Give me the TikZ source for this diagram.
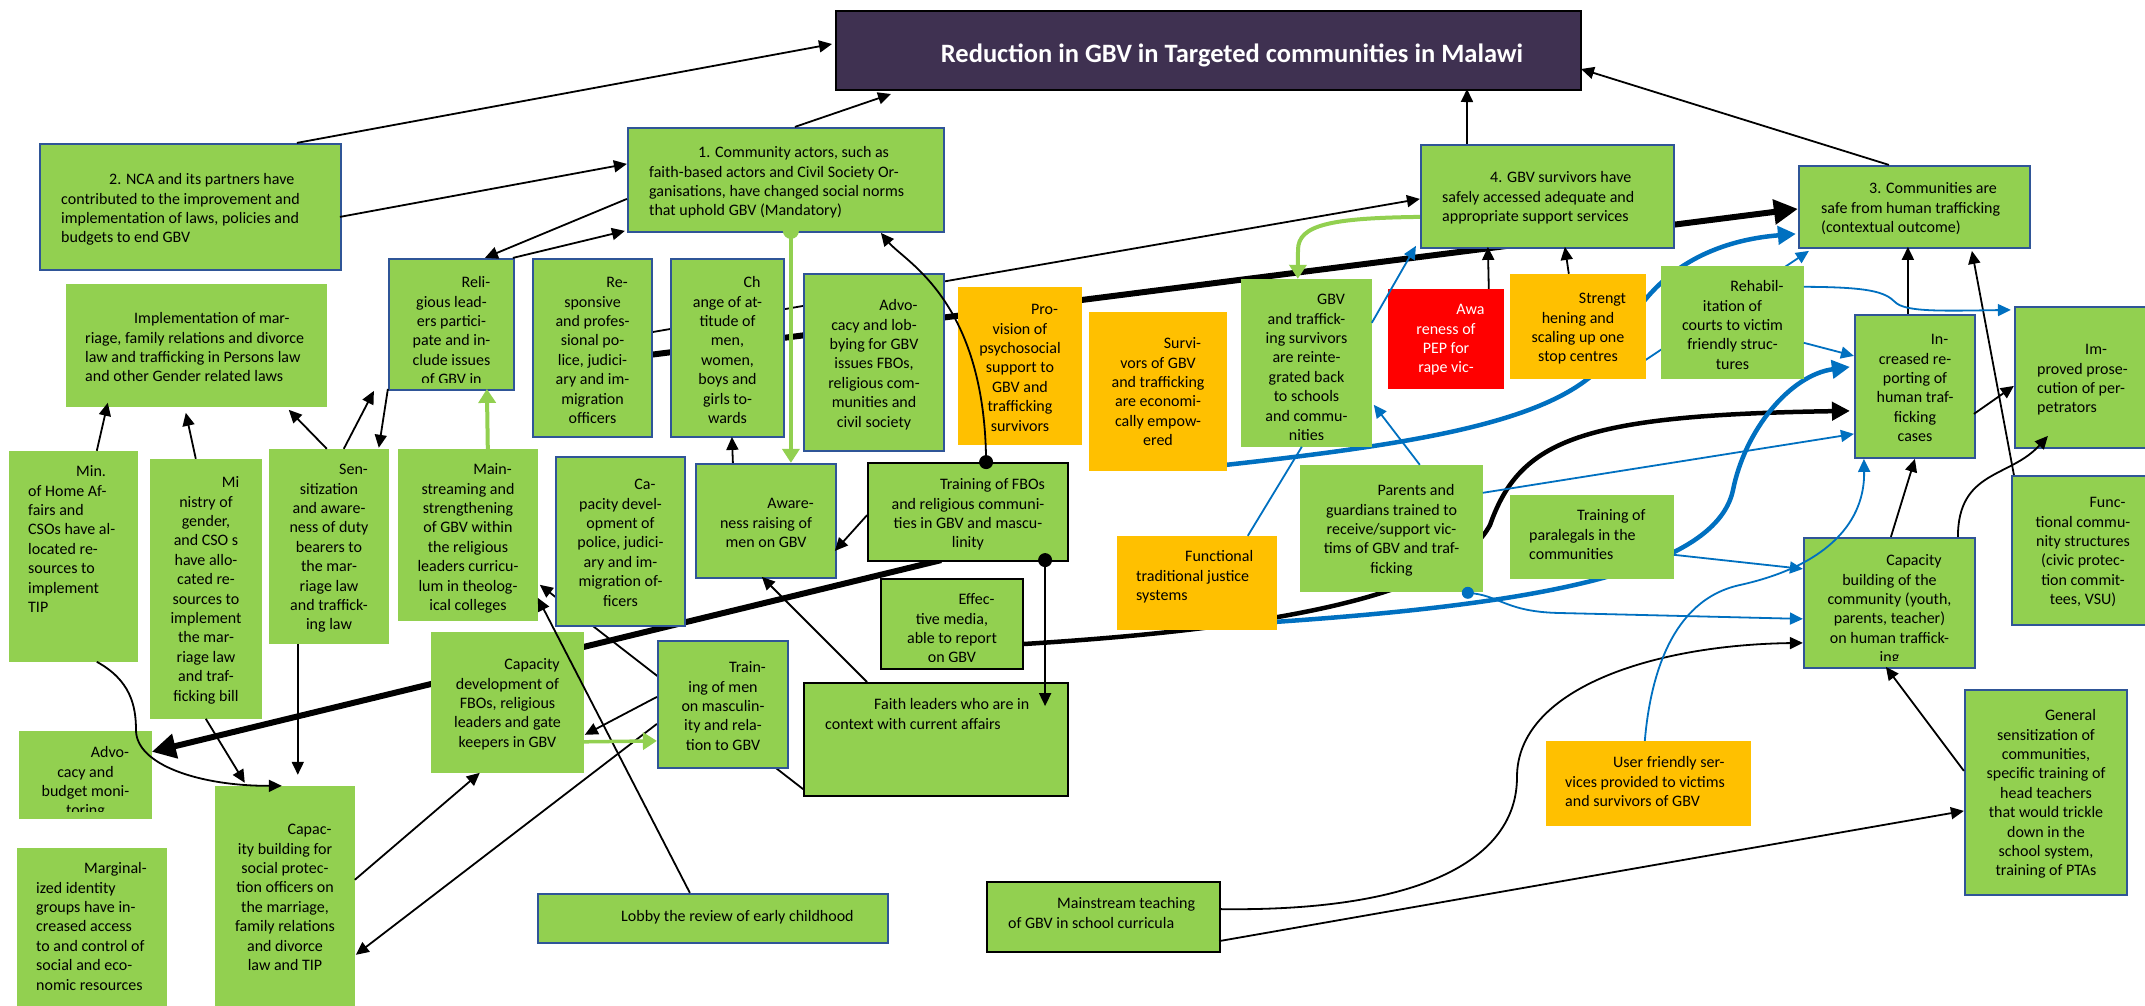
\documentclass[tikz,border=0pt]{standalone}
\usepackage{fontspec}
\setmainfont{Carlito}
\usetikzlibrary{arrows.meta,backgrounds}
\definecolor{grn}{HTML}{92D050}
\definecolor{org}{HTML}{FFC000}
\definecolor{redb}{HTML}{FF0000}
\definecolor{bord}{RGB}{47,85,151}
\definecolor{lblue}{HTML}{0070C0}
\definecolor{ttl}{HTML}{3F3151}
\newcommand\bx[8]{%
  \node[#2, minimum width={(#5-#3)*1pt}, minimum height={(#6-#4)*1pt}] (#1) at ({(#3+#5)/2},{(#4+#6)/2}) {};
  \begin{scope}
    \clip (#3,#4) rectangle (#5,{#6-8});
    \node[txt,#7] {\rule{0pt}{12.5pt}#8};
  \end{scope}}
\begin{document}
\begin{tikzpicture}[x=1pt,y=-1pt,
  gb/.style={fill=grn, draw=bord, line width=2.2pt, inner sep=0pt},
  gk/.style={fill=grn, draw=black, line width=1.8pt, inner sep=0pt},
  gn/.style={fill=grn, inner sep=0pt},
  ob/.style={fill=org, inner sep=0pt},
  rb/.style={fill=redb, inner sep=0pt},
  tb/.style={fill=ttl, draw=black, line width=2pt, inner sep=0pt},
  txt/.style={inner sep=0pt, font=\fontsize{16}{19.4}\selectfont},
  cen/.style={anchor=north, align=center},
  lft/.style={anchor=north west, align=left},
  ar/.style={line width=1.8pt, -{Triangle[length=13pt,width=12pt]}},
  bar/.style={draw=lblue, line width=1.8pt, -{Triangle[length=13pt,width=12pt]}},
  gar/.style={draw=grn, line width=4pt, -{Triangle[length=14pt,width=17pt]}},
  tk/.style={line width=6pt, -{Triangle[length=24pt,width=24pt]}},
  mk/.style={line width=4.5pt, -{Triangle[length=18pt,width=18pt]}},
  bk/.style={draw=lblue, line width=4.5pt, -{Triangle[length=18pt,width=18pt]}}]
\useasboundingbox (0,0) rectangle (2145,1005);

% ---------- boxes ----------
\node[tb, minimum width=745pt, minimum height=79pt] (title) at (1208.5,50.5) {};
\node[text=white, font=\fontsize{26.5}{30}\selectfont\bfseries, anchor=center] at (1232,55) {Reduction in GBV in Targeted communities in Malawi};

\bx{n2}{gb}{40}{144}{341}{270}{lft,at={(61,172)}}{\hspace*{48pt}2. NCA and its partners have\\contributed to the improvement and\\implementation of laws, policies and\\budgets to end GBV}
\bx{impl}{gn}{66}{284}{327}{407}{lft,at={(85,311)}}{\hspace*{49pt}Implementation of mar-\\riage, family relations and divorce\\law and trafficking in Persons law\\and other Gender related laws}
\bx{rel}{gb}{389}{259}{514}{390}{cen,at={(451.5,275)}}{\hspace*{49pt}Reli-\\gious lead-\\ers partici-\\pate and in-\\clude issues\\of GBV in}
\bx{c1}{gb}{628}{128}{944}{232}{lft,at={(649,145)}}{\hspace*{49pt}1. Community actors, such as\\faith-based actors and Civil Society Or-\\ganisations, have changed social norms\\that uphold GBV (Mandatory)}
\bx{resp}{gb}{533}{259}{652}{437}{cen,at={(592.5,275)}}{\hspace*{49pt}Re-\\sponsive\\and profes-\\sional po-\\lice, judici-\\ary and im-\\migration\\officers}
\bx{chg}{gb}{671}{259}{784}{437}{cen,at={(727.5,275)}}{\hspace*{49pt}Ch\\ange of at-\\titude of\\men,\\women,\\boys and\\girls to-\\wards}
\bx{advl}{gb}{804}{274}{944}{451}{cen,at={(874,298)}}{\hspace*{49pt}Advo-\\cacy and lob-\\bying for GBV\\issues FBOs,\\religious com-\\munities and\\civil society}
\bx{prov}{ob}{958}{287}{1082}{445}{cen,at={(1020,302)}}{\hspace*{49pt}Pro-\\vision of\\psychosocial\\support to\\GBV and\\trafficking\\survivors}
\bx{surv}{ob}{1089}{312}{1227}{471}{cen,at={(1158,336)}}{\hspace*{49pt}Survi-\\vors of GBV\\and trafficking\\are economi-\\cally empow-\\ered}
\bx{reint}{gn}{1241}{279}{1372}{447}{cen,at={(1306.5,292)}}{\hspace*{49pt}GBV\\and traffick-\\ing survivors\\are reinte-\\grated back\\to schools\\and commu-\\nities}
\bx{pep}{rb}{1388}{289}{1504}{389}{cen,at={(1446,302)},text=white}{\hspace*{49pt}Awa\\reness of\\PEP for\\rape vic-}
\bx{strg}{ob}{1510}{274}{1646}{379}{cen,at={(1578,291)}}{\hspace*{49pt}Strengt\\hening and\\scaling up one\\stop centres}
\bx{n4}{gb}{1421}{145}{1674}{248}{lft,at={(1442,170)}}{\hspace*{48pt}4. GBV survivors have\\safely accessed adequate and\\appropriate support services}
\bx{n3}{gb}{1799}{166}{2030}{248}{lft,at={(1821,181)}}{\hspace*{48pt}3. Communities are\\safe from human trafficking\\(contextual outcome)}
\bx{rehab}{gn}{1661}{266}{1804}{379}{cen,at={(1732.5,279)}}{\hspace*{49pt}Rehabil-\\itation of\\courts to victim\\friendly struc-\\tures}
\bx{incr}{gb}{1855}{315}{1975}{458}{cen,at={(1915,332)}}{\hspace*{49pt}In-\\creased re-\\porting of\\human traf-\\ficking\\cases}
\bx{impr}{gb}{2015}{307}{2152}{448}{lft,at={(2037,342)}}{\hspace*{48pt}Im-\\proved prose-\\cution of per-\\petrators}
\bx{func}{gb}{2012}{476}{2152}{625}{cen,at={(2083,495)}}{\hspace*{49pt}Func-\\tional commu-\\nity structures\\(civic protec-\\tion commit-\\tees, VSU)}
\bx{capc}{gb}{1804}{538}{1975}{668}{cen,at={(1889.5,553)}}{\hspace*{49pt}Capacity\\building of the\\community (youth,\\parents, teacher)\\on human traffick-\\ing}
\bx{gens}{gb}{1965}{690}{2127}{895}{cen,at={(2046,708)}}{\hspace*{49pt}General\\sensitization of\\communities,\\specific training of\\head teachers\\that would trickle\\down in the\\school system,\\training of PTAs}
\bx{para}{gn}{1510}{495}{1674}{579}{lft,at={(1529,508)}}{\hspace*{48pt}Training of\\paralegals in the\\communities}
\bx{par}{gn}{1300}{465}{1483}{592}{cen,at={(1391.5,483)}}{\hspace*{49pt}Parents and\\guardians trained to\\receive/support vic-\\tims of GBV and traf-\\ficking}
\bx{trad}{ob}{1117}{536}{1277}{630}{lft,at={(1136,549)}}{\hspace*{49pt}Functional\\traditional justice\\systems}
\bx{trfbo}{gk}{868}{463}{1068}{561}{cen,at={(968,477)}}{\hspace*{49pt}Training of FBOs\\and religious communi-\\ties in GBV and mascu-\\linity}
\bx{media}{gk}{881}{579}{1023}{669}{cen,at={(952,592)}}{\hspace*{49pt}Effec-\\tive media,\\able to report\\on GBV}
\bx{faith}{gk}{804}{683}{1068}{796}{lft,at={(825,697)}}{\hspace*{49pt}Faith leaders who are in\\context with current affairs}
\bx{awr}{gb}{696}{464}{836}{578}{cen,at={(766,496)}}{\hspace*{49pt}Aware-\\ness raising of\\men on GBV}
\bx{capp}{gb}{556}{457}{685}{626}{cen,at={(620.5,477)}}{\hspace*{49pt}Ca-\\pacity devel-\\opment of\\police, judici-\\ary and im-\\migration of-\\ficers}
\bx{mains}{gn}{398}{449}{538}{621}{cen,at={(468,462)}}{\hspace*{49pt}Main-\\streaming and\\strengthening\\of GBV within\\the religious\\leaders curricu-\\lum in theolog-\\ical colleges}
\bx{sens}{gn}{269}{449}{389}{644}{cen,at={(329,462)}}{\hspace*{49pt}Sen-\\sitization\\and aware-\\ness of duty\\bearers to\\the mar-\\riage law\\and traffick-\\ing law}
\bx{minG}{gn}{150}{459}{262}{719}{cen,at={(206,475)}}{\hspace*{49pt}Mi\\nistry of\\gender,\\and CSO s\\have allo-\\cated re-\\sources to\\implement\\the mar-\\riage law\\and traf-\\ficking bill}
\bx{minH}{gn}{9}{451}{138}{662}{lft,at={(28,464)}}{\hspace*{48pt}Min.\\of Home Af-\\fairs and\\CSOs have al-\\located re-\\sources to\\implement\\TIP}
\bx{capf}{gn}{431}{632}{584}{773}{cen,at={(507.5,657)}}{\hspace*{49pt}Capacity\\development of\\FBOs, religious\\leaders and gate\\keepers in GBV}
\bx{trmen}{gb}{658}{641}{788}{768}{cen,at={(723,660)}}{\hspace*{49pt}Train-\\ing of men\\on masculin-\\ity and rela-\\tion to GBV}
\bx{advb}{gn}{19}{731}{152}{819}{cen,at={(85.5,745)}}{\hspace*{49pt}Advo-\\cacy and\\budget moni-\\toring}
\bx{marg}{gn}{17}{848}{167}{1010}{lft,at={(36,861)}}{\hspace*{48pt}Marginal-\\ized identity\\groups have in-\\creased access\\to and control of\\social and eco-\\nomic resources}
\bx{capsp}{gn}{215}{786}{355}{1010}{cen,at={(285,822)}}{\hspace*{49pt}Capac-\\ity building for\\social protec-\\tion officers on\\the marriage,\\family relations\\and divorce\\law and TIP}
\bx{lobby}{gb}{538}{894}{888}{943}{lft,at={(572,909)}}{\hspace*{49pt}Lobby the review of early childhood}
\bx{mtch}{gk}{987}{882}{1220}{952}{lft,at={(1008,896)}}{\hspace*{49pt}Mainstream teaching\\of GBV in school curricula}
\bx{user}{ob}{1546}{741}{1751}{826}{lft,at={(1565,755)}}{\hspace*{48pt}User friendly ser-\\vices provided to victims\\and survivors of GBV}

% ---------- connectors behind boxes ----------
\begin{pgfonlayer}{background}
\fill[white] (0,0) rectangle (2145,1005);
\draw[tk] ([shift={(74,98)}]trfbo.north west) -- ([shift={(133,21)}]advb.north west);
\draw[tk] ([shift={(110,98)}]resp.north west) -- ([shift={(0,44)}]n3.north west);
\draw[ar] ([shift={(110,76)}]resp.north west) -- ([shift={(0,55)}]n4.north west);
\draw[mk] ([shift={(142,66)}]media.north west) .. controls (1250,630) and (1450,600) .. (1490,525) .. controls (1520,440) and (1580,415) .. ([shift={(-4,97)}]incr.north west);
\draw[bk] ([shift={(138,153)}]surv.north west) .. controls (1450,440) and (1585,415) .. (1620,340) .. controls (1655,265) and (1720,240) .. ([shift={(-2,69)}]n3.north west);
\draw[bk] ([shift={(160,86)}]trad.north west) .. controls (1520,605) and (1715,575) .. (1733,490) .. controls (1745,430) and (1790,375) .. ([shift={(-4,53)}]incr.north west);
\draw[ar] ([shift={(0,84)}]trmen.north west) -- ([shift={(141,169)}]capsp.north west);
\draw[ar] ([shift={(0,107)}]faith.north west) -- ([shift={(142,136)}]mains.north west);
\draw[bar] ([shift={(130,90)}]strg.north west) -- ([shift={(11,86)}]n3.north west);
\end{pgfonlayer}

% ---------- connectors on top ----------
\draw[ar] ([shift={(258,0)}]n2.north west) -- ([shift={(-3,34)}]title.north west);
\draw[ar] ([shift={(301,74)}]n2.north west) -- ([shift={(0,37)}]c1.north west);
\draw[ar] ([shift={(125,0)}]rel.north west) -- ([shift={(-2,104)}]c1.north west);
\draw[ar] ([shift={(0,72)}]c1.north west) -- ([shift={(97,0)}]rel.north west);
\draw[ar] ([shift={(168,0)}]c1.north west) -- ([shift={(56,84)}]title.north west);
\draw[ar] ([shift={(47,0)}]n4.north west) -- ([shift={(632,79)}]title.north west);
\draw[ar] ([shift={(91,0)}]n3.north west) -- ([shift={(746,59)}]title.north west);
\draw[ar] ([shift={(119,0)}]trfbo.north west) .. controls (985,300) and (905,262) .. ([shift={(254,106)}]c1.north west);
\draw[ar] ([shift={(178,98)}]trfbo.north west) -- ([shift={(242,24)}]faith.north west);
\draw[ar] ([shift={(0,53)}]trfbo.north west) -- ([shift={(140,88)}]awr.north west);
\draw[ar] ([shift={(64,0)}]faith.north west) -- ([shift={(67,114)}]awr.north west);
\draw[ar] ([shift={(38,0)}]awr.north west) -- ([shift={(62,179)}]chg.north west);
\draw[ar] ([shift={(58,0)}]sens.north west) -- ([shift={(223,126)}]impl.north west);
\draw[ar] ([shift={(75,0)}]sens.north west) -- ([shift={(-14,133)}]rel.north west);
\draw[ar] ([shift={(0,131)}]rel.north west) -- ([shift={(110,-1)}]sens.north west);
\draw[ar] ([shift={(46,0)}]minG.north west) -- ([shift={(120,129)}]impl.north west);
\draw[ar] ([shift={(88,0)}]minH.north west) -- ([shift={(42,119)}]impl.north west);
\draw[ar] ([shift={(29,195)}]sens.north west) -- ([shift={(83,-11)}]capsp.north west);
\draw[ar] ([shift={(56,260)}]minG.north west) -- ([shift={(30,-3)}]capsp.north west);
\draw[ar] ([shift={(88,211)}]minH.north west) .. controls (130,680) and (136,705) .. (136,730) .. controls (136,765) and (200,786) .. ([shift={(67,0)}]capsp.north west);
\draw[ar] ([shift={(140,94)}]capsp.north west) -- ([shift={(49,141)}]capf.north west);
\draw[ar] ([shift={(0,57)}]trmen.north west) -- ([shift={(154,103)}]capf.north west);
\draw[ar] ([shift={(153,0)}]lobby.north west) -- ([shift={(140,149)}]mains.north west);
\draw[ar] ([shift={(88,0)}]capc.north west) -- ([shift={(61,145)}]incr.north west);
\draw[ar] ([shift={(155,0)}]capc.north west) .. controls (1958,470) and (2010,478) .. ([shift={(34,130)}]impr.north west);
\draw[ar] ([shift={(3,0)}]func.north west) -- ([shift={(174,86)}]n3.north west);
\draw[ar] ([shift={(54,0)}]incr.north west) -- ([shift={(110,82)}]n3.north west);
\draw[ar] ([shift={(120,100)}]incr.north west) -- ([shift={(0,80)}]impr.north west);
\draw[ar] ([shift={(101,0)}]pep.north west) -- ([shift={(68,103)}]n4.north west);
\draw[ar] ([shift={(59,0)}]strg.north west) -- ([shift={(145,103)}]n4.north west);
\draw[ar] ([shift={(0,82)}]gens.north west) -- ([shift={(83,130)}]capc.north west);
\draw[ar] ([shift={(233,28)}]mtch.north west) .. controls (1420,912) and (1517,860) .. (1517,777) .. controls (1517,690) and (1650,645) .. ([shift={(0,106)}]capc.north west);
\draw[ar] ([shift={(233,60)}]mtch.north west) -- ([shift={(0,122)}]gens.north west);

\draw[gar] ([shift={(164,104)}]c1.north west) -- ([shift={(96,0)}]awr.north west);
\draw[gar] ([shift={(90,0)}]mains.north west) -- ([shift={(99,131)}]rel.north west);
\draw[gar] ([shift={(0,73)}]n4.north west) .. controls (1330,218) and (1298,225) .. (1298,250) -- ([shift={(57,0)}]reint.north west);
\draw[gar, line width=3.5pt] ([shift={(153,110)}]capf.north west) -- ([shift={(0,101)}]trmen.north west);

\draw[bar] ([shift={(168,128)}]par.north west) .. controls (1500,595) and (1505,612) .. (1560,613) -- ([shift={(0,82)}]capc.north west);
\draw[bar] ([shift={(183,28)}]par.north west) -- ([shift={(0,120)}]incr.north west);
\draw[bar] ([shift={(120,0)}]par.north west) -- ([shift={(133,126)}]reint.north west);
\draw[bar] ([shift={(131,44)}]reint.north west) -- ([shift={(-4,102)}]n4.north west);
\draw[draw=lblue, line width=1.8pt] ([shift={(131,0)}]trad.north west) -- ([shift={(61,168)}]reint.north west);
\draw[bar] ([shift={(143,21)}]rehab.north west) .. controls (1870,287) and (1885,292) .. (1895,302) .. controls (1905,312) and (1940,311) .. ([shift={(-3,4)}]impr.north west);
\draw[bar] ([shift={(143,77)}]rehab.north west) -- ([shift={(0,42)}]incr.north west);
\draw[bar] ([shift={(164,60)}]para.north west) -- ([shift={(0,32)}]capc.north west);
\draw[bar] ([shift={(99,0)}]user.north west) .. controls (1650,680) and (1670,600) .. (1740,585) .. controls (1830,565) and (1865,520) .. ([shift={(10,145)}]incr.north west);

% ---------- dots ----------
\fill ([shift={(119,0)}]trfbo.north west) circle (7pt);
\fill ([shift={(178,98)}]trfbo.north west) circle (7pt);
\fill[lblue] ([shift={(168,128)}]par.north west) circle (6pt);
\fill[grn] ([shift={(164,104)}]c1.north west) circle (8pt);
\end{tikzpicture}
\end{document}
